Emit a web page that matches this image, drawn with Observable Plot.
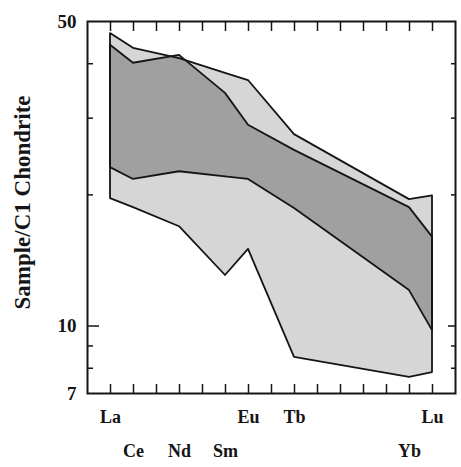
<!DOCTYPE html>
<html><head><meta charset="utf-8">
<script src="https://cdn.jsdelivr.net/npm/d3@7"></script>
<script src="https://cdn.jsdelivr.net/npm/@observablehq/plot@0.6"></script>
<style>body{margin:0;background:#fff}</style>
</head><body><div id="chart"></div>
<script>
// REE elements and their atomic numbers (x positions)
const elements = ["La", "Ce", "Nd", "Sm", "Eu", "Tb", "Yb", "Lu"];
const atomicNumbers = [57, 58, 60, 62, 63, 65, 70, 71];
// Field 1 (light stipple): upper and lower envelopes
const field1Upper = [46.9, 43.4, 41.1, 38.0, 36.6, 27.5, 19.5, 19.9];
const field1Lower = [19.6, 18.7, 16.9, 13.06, 15.0, 8.47, 7.62, 7.82];
// Field 2 (dark hatch): upper and lower envelopes
const field2Upper = [44.1, 40.1, 41.8, 34.2, 28.9, 25.3, 18.7, 16.0];
const field2Lower = [23.1, 21.7, 22.6, 22.0, 21.7, 18.6, 12.06, 9.76];
// tick sets
const xTicks = d3.range(57, 72);
const labelRow1 = ["La", "Eu", "Tb", "Lu"];
const labelRow2 = ["Ce", "Nd", "Sm", "Yb"];
const yMinorTicks = [8, 9, 20, 30, 40];
const yMajorTicks = [10];
const yLabels = [50, 10, 7];
const yTitle = "Sample/C1 Chondrite";

const rows = elements.map((e, i) => ({
  element: e, z: atomicNumbers[i],
  u1: field1Upper[i], l1: field1Lower[i],
  u2: field2Upper[i], l2: field2Lower[i]
}));
const zOf = Object.fromEntries(elements.map((e, i) => [e, atomicNumbers[i]]));
const nameOf = Object.fromEntries(elements.map((e, i) => [atomicNumbers[i], e]));
const ink = "#151515";
const font = "'Liberation Serif', 'Times New Roman', serif";

const chart = Plot.plot({
  width: 461, height: 467,
  marginLeft: 87, marginRight: 6, marginTop: 21, marginBottom: 74,
  style: {fontFamily: font, fontWeight: "bold", fontSize: "18px", background: "#fff", color: ink},
  x: {domain: [56, 72]},
  y: {type: "log", domain: [7, 50]},
  marks: [
    Plot.areaY(rows, {x: "z", y1: "l1", y2: "u1", fill: "#d6d6d6"}),
    Plot.areaY(rows, {x: "z", y1: "l2", y2: "u2", fill: "#555", fillOpacity: 0.42}),
    Plot.areaY(rows, {x: "z", y1: "l1", y2: "u1", fill: "none", stroke: ink, strokeWidth: 1.8}),
    Plot.areaY(rows, {x: "z", y1: "l2", y2: "u2", fill: "none", stroke: ink, strokeWidth: 1.8}),
    Plot.frame({stroke: ink, strokeWidth: 2}),
    Plot.axisX(xTicks, {anchor: "bottom", tickSize: -9, tickFormat: () => "", label: null, strokeWidth: 1.5}),
    Plot.axisX(xTicks, {anchor: "top", tickSize: -9, tickFormat: () => "", label: null, strokeWidth: 1.5}),
    Plot.axisX(labelRow1.map(e => zOf[e]), {anchor: "bottom", tickSize: 0, tickPadding: 17, tickFormat: d => nameOf[d], label: null, fontSize: 18, fontWeight: "bold"}),
    Plot.axisX(labelRow2.map(e => zOf[e]), {anchor: "bottom", tickSize: 0, tickPadding: 51, tickFormat: d => nameOf[d], label: null, fontSize: 18, fontWeight: "bold"}),
    Plot.axisY(yMinorTicks, {anchor: "left", tickSize: -6, tickFormat: () => "", label: null, strokeWidth: 1.5}),
    Plot.axisY(yMinorTicks, {anchor: "right", tickSize: -5, tickFormat: () => "", label: null, strokeWidth: 1.5}),
    Plot.axisY(yMajorTicks, {anchor: "left", tickSize: -12, tickFormat: () => "", label: null, strokeWidth: 1.5}),
    Plot.axisY(yMajorTicks, {anchor: "right", tickSize: -8, tickFormat: () => "", label: null, strokeWidth: 1.5}),
    Plot.axisY(yLabels, {anchor: "left", tickSize: 0, tickPadding: 11, tickFormat: d => String(d), label: null, fontSize: 19, fontWeight: "bold"}),
    Plot.text([yTitle], {frameAnchor: "left", text: d => d, rotate: -90, textAnchor: "middle", lineAnchor: "middle", dx: -65, dy: -5, fontSize: 23, fontWeight: "bold", fill: ink})
  ]
});
document.getElementById("chart").appendChild(chart);
</script>
</body></html>
